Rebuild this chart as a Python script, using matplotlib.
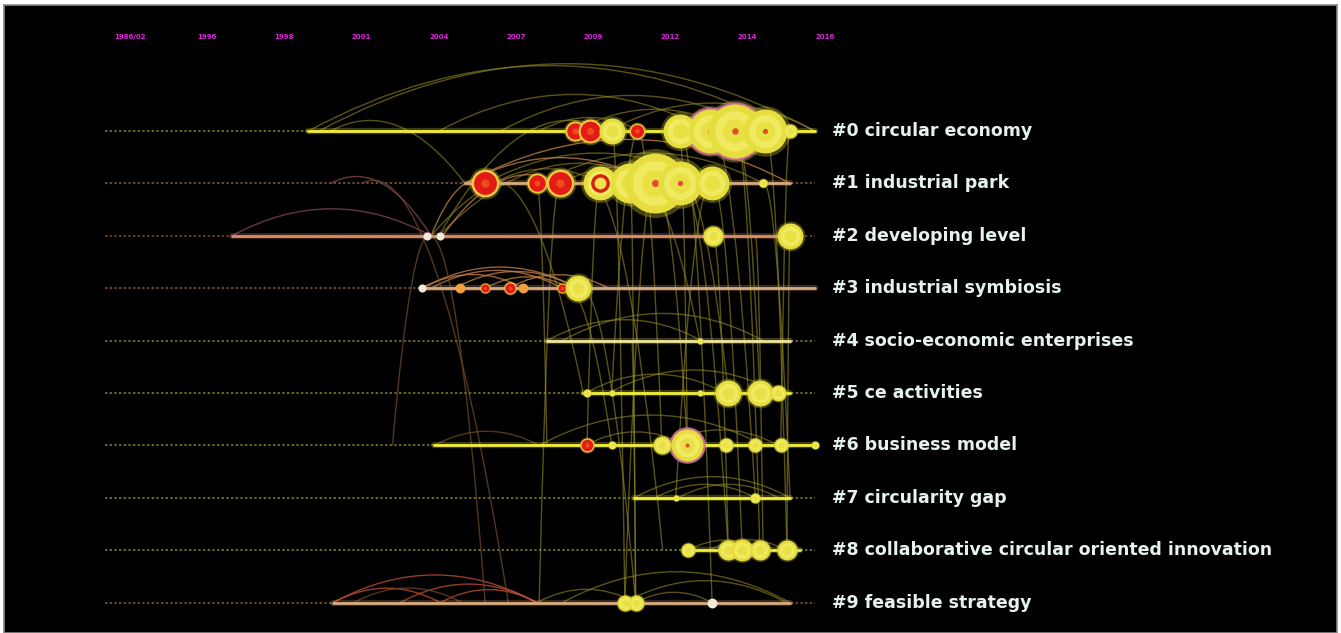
import numpy as np
import matplotlib.pyplot as plt
from matplotlib.path import Path
from matplotlib.patches import PathPatch

# time slices shown on top of the timeline
slice_labels = ["1986/02", "1996", "1998", "2001", "2004", "2007", "2009", "2012", "2014", "2016"]

cluster_labels = ["#0 circular economy", "#1 industrial park", "#2 developing level",
                  "#3 industrial symbiosis", "#4 socio-economic enterprises", "#5 ce activities",
                  "#6 business model", "#7 circularity gap",
                  "#8 collaborative circular oriented innovation", "#9 feasible strategy"]

# span of each cluster on the timeline (in slices)
row_start = [2.31, 4.34, 1.32, 3.78, 5.40, 5.87, 3.94, 6.53, 7.23, 2.63]
row_end = [8.87, 8.55, 8.68, 8.87, 8.55, 8.55, 8.87, 8.55, 8.68, 8.55]
row_tone = ["yellow", "tan", "salmon", "tan", "pale", "yellow", "yellow", "yellow", "yellow", "tan"]

# nodes: (slice, citation count, kind)  r = burst, m = high centrality, y = plain, w = small, o = orange
nodes0 = [(5.76, 16, "r"), (5.96, 23, "r"), (6.24, 27, "y"), (6.57, 10, "r"), (7.12, 46, "y"),
          (7.51, 77, "m"), (7.84, 117, "m"), (8.23, 77, "y"), (8.55, 8, "y")]
nodes1 = [(4.60, 31, "r"), (5.27, 16, "r"), (5.57, 31, "r"), (6.09, 46, "yr"), (6.48, 64, "y"),
          (6.80, 144, "y"), (7.12, 77, "y"), (7.54, 46, "y"), (8.20, 3, "y")]
nodes2 = [(3.85, 1.5, "w"), (4.02, 1.5, "w"), (7.55, 16, "y"), (8.55, 27, "y")]
nodes3 = [(3.78, 1.5, "w"), (4.27, 2.5, "o"), (4.60, 4, "r"), (4.92, 6, "r"), (5.09, 2.5, "o"),
          (5.60, 4, "r"), (5.80, 27, "y")]
nodes4 = [(7.38, 1.5, "y")]
nodes5 = [(5.92, 2.5, "y"), (6.24, 1.5, "y"), (7.38, 1.5, "y"), (7.75, 27, "y"), (8.16, 27, "y"),
          (8.39, 10, "y")]
nodes6 = [(5.92, 8, "r"), (6.24, 2.5, "y"), (6.89, 13, "y"), (7.22, 41, "m"), (7.72, 8, "y"),
          (8.10, 8, "y"), (8.43, 8, "y"), (8.87, 2.5, "y")]
nodes7 = [(7.07, 1.5, "y"), (8.10, 4, "y")]
nodes8 = [(7.23, 8, "y"), (7.75, 16, "y"), (7.93, 19, "y"), (8.16, 16, "y"), (8.51, 16, "y")]
nodes9 = [(6.41, 10, "y"), (6.55, 10, "y"), (7.54, 2.5, "w")]
all_nodes = [nodes0, nodes1, nodes2, nodes3, nodes4, nodes5, nodes6, nodes7, nodes8, nodes9]

# co-citation links: (row a, slice a, row b, slice b, tone)
links = [
    (0, 2.31, 0, 8.55, "olive"), (0, 2.45, 0, 8.87, "olive"), (0, 4.0, 0, 7.5, "olive"),
    (0, 4.8, 0, 8.2, "olive"), (0, 5.3, 0, 6.6, "olive"), (0, 6.2, 0, 8.87, "olive"),
    (0, 2.6, 1, 4.34, "olive"), (0, 5.76, 0, 7.84, "olive"),
    (1, 4.34, 1, 8.55, "orange"), (1, 4.6, 1, 7.5, "olive"), (1, 5.3, 1, 8.2, "olive"),
    (1, 4.34, 1, 6.8, "orange"), (1, 5.57, 1, 7.12, "olive"),
    (1, 2.6, 2, 3.9, "pink"), (2, 1.32, 2, 3.9, "pink"),
    (2, 3.9, 1, 4.6, "orange"), (2, 3.9, 1, 6.1, "olive"), (2, 4.0, 0, 6.2, "olive"),
    (2, 4.0, 1, 6.8, "olive"), (2, 4.05, 1, 5.57, "orange"),
    (3, 3.78, 3, 5.8, "orange"), (3, 3.9, 3, 5.6, "orange"), (3, 4.2, 3, 5.8, "orange"),
    (3, 4.6, 3, 5.7, "orange"), (3, 3.78, 3, 5.1, "orange"), (3, 4.9, 3, 6.2, "orange"),
    (4, 5.4, 4, 7.4, "olive"), (4, 5.6, 4, 8.2, "olive"),
    (5, 6.2, 5, 8.4, "olive"), (5, 5.9, 5, 7.7, "olive"),
    (6, 3.94, 6, 5.3, "brown"), (6, 5.3, 6, 8.2, "olive"), (6, 5.9, 6, 7.2, "olive"),
    (6, 6.9, 6, 8.4, "olive"),
    (7, 6.53, 7, 8.55, "olive"), (7, 6.8, 7, 8.1, "olive"), (7, 7.1, 7, 8.4, "olive"),
    (8, 7.23, 8, 8.2, "olive"), (8, 7.5, 8, 8.5, "olive"),
    (9, 2.63, 9, 5.27, "red"), (9, 2.63, 9, 4.02, "red"), (9, 3.5, 9, 5.27, "red"),
    (9, 4.02, 9, 5.27, "red"), (9, 5.27, 9, 6.55, "olive"), (9, 5.6, 9, 8.55, "olive"),
    (9, 6.4, 9, 8.5, "olive"), (9, 6.55, 9, 7.54, "olive"), (9, 2.9, 9, 4.3, "brown"),
    (2, 3.85, 9, 4.6, "brown"), (2, 3.9, 6, 3.4, "brown"), (1, 3.0, 9, 4.9, "brown"),
    (1, 6.8, 9, 6.41, "olive"), (1, 6.48, 9, 6.55, "olive"), (0, 6.24, 9, 6.41, "olive"),
    (1, 6.09, 6, 5.92, "olive"), (1, 5.57, 9, 5.3, "olive"), (1, 5.27, 6, 5.4, "olive"),
    (1, 7.12, 8, 7.75, "olive"), (1, 7.54, 8, 7.93, "olive"), (0, 7.84, 8, 8.16, "olive"),
    (0, 8.23, 8, 8.51, "olive"), (0, 7.51, 7, 8.1, "olive"), (1, 7.12, 5, 7.75, "olive"),
    (0, 7.84, 5, 8.16, "olive"), (0, 8.55, 6, 8.43, "olive"), (1, 8.2, 7, 8.55, "olive"),
    (0, 7.12, 6, 7.22, "olive"), (1, 6.8, 6, 7.22, "olive"), (2, 7.55, 8, 7.75, "olive"),
    (2, 8.55, 8, 8.51, "olive"), (3, 5.8, 9, 6.55, "olive"), (3, 5.6, 6, 6.24, "olive"),
    (1, 6.48, 4, 7.38, "olive"), (0, 6.57, 6, 6.89, "olive"), (1, 4.6, 5, 5.87, "olive"),
    (4, 6.5, 9, 6.55, "olive"), (1, 7.54, 7, 7.07, "olive"), (0, 7.12, 9, 7.54, "olive"),
    (1, 5.9, 8, 6.9, "olive"), (0, 6.6, 5, 6.24, "olive"), (2, 8.1, 8, 8.2, "olive"),
]

tone_colors = {"olive": "#958a26", "orange": "#c8844a", "red": "#c8503a", "pink": "#8c4858",
               "brown": "#6e4a2a", "yellow": "#f2ee3a", "tan": "#d8aa80", "salmon": "#d8906c",
               "pale": "#efe59a"}
dot_colors = {"yellow": "#6a6a20", "tan": "#6a4a30", "salmon": "#6a3a2a", "pale": "#6a6430"}

# pixel layout of the timeline: slice 0 at x=130px, 77.2 px per slice; row 0 at y=131px, 52.4 px per row
fig = plt.figure(figsize=(13.41, 6.33), dpi=100, facecolor="white")
ax = fig.add_axes([4 / 1341, 0, 1333 / 1341, 628 / 633])
ax.set_facecolor("black")
ax.set_xlim((4 - 130) / 77.2, (1337 - 130) / 77.2)
ax.set_ylim((633 - 131) / 52.4, (5 - 131) / 52.4)
ax.set_xticks([])
ax.set_yticks([])
for sp in ax.spines.values():
    sp.set_color("#8a8a8a")
    sp.set_linewidth(1.2)

n_rows = len(cluster_labels)

# dotted guide for every row
for r in range(n_rows):
    ax.plot([-0.32, 8.87], [r, r], color=dot_colors[row_tone[r]], lw=1.4,
            linestyle=(0, (1.2, 1.2)), zorder=1)

# links as curved arcs
for (ra, sa, rb, sb, tone) in links:
    dx = abs(sb - sa)
    peak = 0.2 * dx
    top = min(ra, rb) - 2 * peak
    verts = [(sa, ra), ((sa + sb) / 2, top), (sb, rb)]
    path = Path(verts, [Path.MOVETO, Path.CURVE3, Path.CURVE3])
    alpha = 0.75 if tone != "olive" else 0.6
    ax.add_patch(PathPatch(path, fill=False, edgecolor=tone_colors[tone], lw=1.0,
                           alpha=alpha, zorder=2))

# solid cluster lines
for r in range(n_rows):
    c = tone_colors[row_tone[r]]
    ax.plot([row_start[r], row_end[r]], [r, r], color=c, lw=4.5, alpha=0.25,
            solid_capstyle="round", zorder=3)
    ax.plot([row_start[r], row_end[r]], [r, r], color=c, lw=2.0,
            solid_capstyle="round", zorder=3)


def msize(radius_px):
    return (2 * radius_px * 0.72) ** 2


# nodes
for r, row_nodes in enumerate(all_nodes):
    for (s, cnt, kind) in row_nodes:
        rad = 2.5 * np.sqrt(cnt)
        if kind == "w":
            ax.scatter(s, r, s=msize(rad + 1), color="#f4e8d8", zorder=5, linewidths=0)
            continue
        if kind == "o":
            ax.scatter(s, r, s=msize(rad + 1), color="#f0a040", zorder=5, linewidths=0)
            continue
        if kind == "m":
            ax.scatter(s, r, s=msize(rad + 2), color="#e040e0", alpha=0.9, zorder=4, linewidths=0)
        # soft glow
        ax.scatter(s, r, s=msize(rad * 1.15), color="#c8c038", alpha=0.35, zorder=4, linewidths=0)
        if kind == "r":
            ax.scatter(s, r, s=msize(rad), color="#f0c840", zorder=5, linewidths=0)
            ax.scatter(s, r, s=msize(rad * 0.82), color="#e41a14", zorder=5, linewidths=0)
            ax.scatter(s, r, s=msize(rad * 0.3), color="#f06020", alpha=0.7, zorder=5, linewidths=0)
        else:
            ax.scatter(s, r, s=msize(rad), color="#e6de3e", zorder=5, linewidths=0)
            ax.scatter(s, r, s=msize(rad * 0.75), color="#f0ea60", zorder=5, linewidths=0)
            ax.scatter(s, r, s=msize(rad * 0.45), color="#e8e044", zorder=5, linewidths=0)
            if kind == "yr":
                ax.scatter(s, r, s=msize(rad * 0.55), color="#d82010", zorder=5, linewidths=0)
                ax.scatter(s, r, s=msize(rad * 0.35), color="#f0e050", zorder=5, linewidths=0)
            elif kind == "m" or cnt > 60:
                ax.scatter(s, r, s=msize(max(rad * 0.12, 2)), color="#e05030", zorder=5, linewidths=0)

# cluster labels
for r in range(n_rows):
    ax.text(9.09, r, cluster_labels[r], color="#e6f2f0", fontsize=12.5, fontweight="bold",
            ha="left", va="center", zorder=6)

# slice labels on top
for i, lab in enumerate(slice_labels):
    ax.text(i, -1.79, lab, color="#e020e0", fontsize=5, fontweight="bold",
            ha="center", va="center", zorder=6)

plt.savefig("out.png", dpi=100, facecolor="white")
